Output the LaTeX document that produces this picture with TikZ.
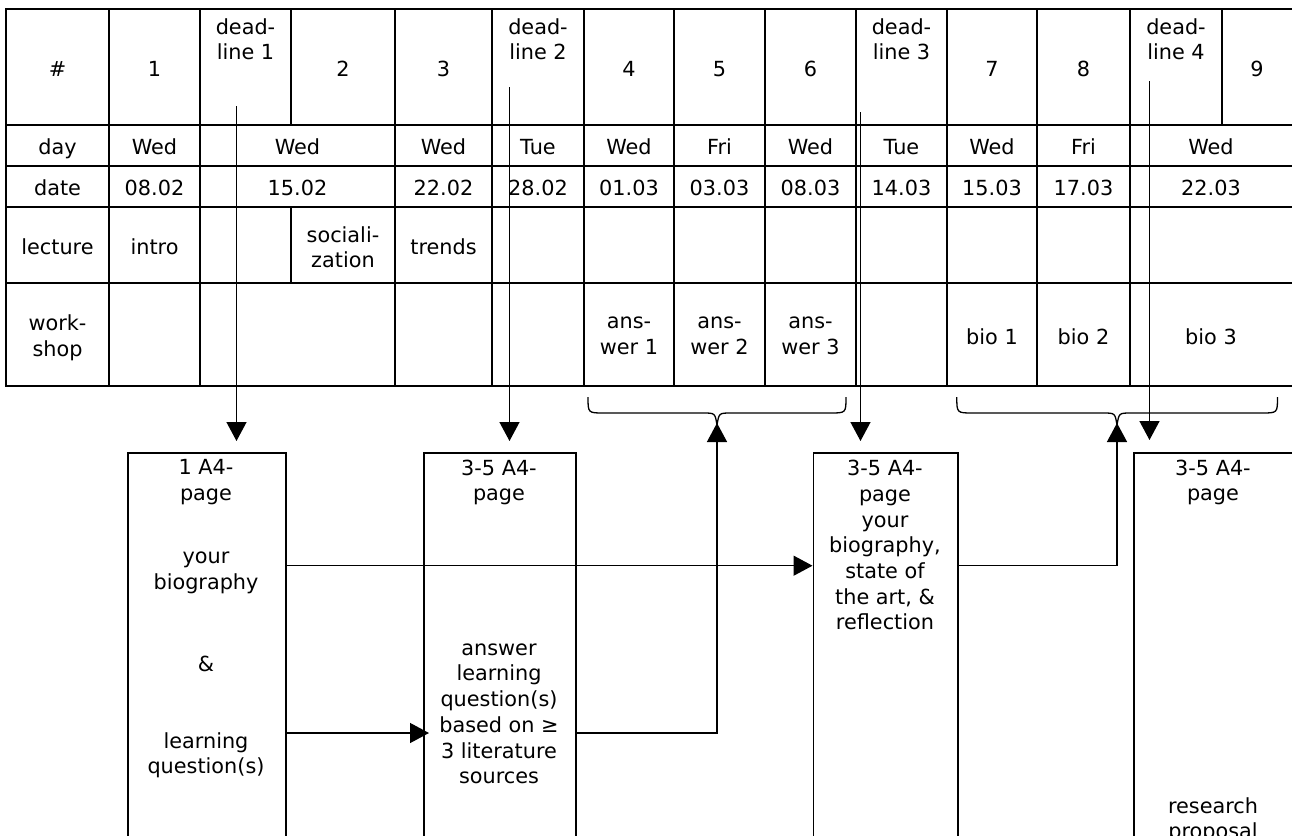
\documentclass[tikz,border=0pt]{standalone}
\usepackage{fontspec}
\setmainfont{DejaVu Sans}
\usetikzlibrary{arrows.meta}
\begin{document}
\begin{tikzpicture}[x=0.5pt,y=-0.5pt,
  tl/.style={line width=0.95pt, line cap=rect},
  txt/.style={inner sep=0pt, align=center, font=\fontsize{10.4}{12.85}\selectfont,
    execute at begin node=\strut, execute at end node=\strut, yshift=-2pt},
  box/.style={draw, line width=0.9pt, anchor=north west, inner sep=0pt, minimum height=200pt},
  conn/.style={line width=0.7pt},
  arr/.style={conn, -{Triangle[length=9.5pt,width=10pt]}},
  brace/.style={line width=0.65pt}
]
\clip (0,0) rectangle (1292,836);
% ---------------- table grid ----------------
\foreach \y in {9,125,166,207,283,386} \draw[tl] (6,\y) -- (1310,\y);
\foreach \x in {6,109,200,395,492,584,674,765,856,947,1037,1130} \draw[tl] (\x,9) -- (\x,386);
\draw[tl] (291,9) -- (291,125) (291,207) -- (291,283) (1222,9) -- (1222,125);
% ---------------- header row ----------------
\node[txt] (hh) at (57.5,67) {\#};
\node[txt] (h1) at (154.5,67) {1};
\node[txt] (h2) at (343,67) {2};
\node[txt] (h3) at (443.5,67) {3};
\node[txt] (h4) at (629,67) {4};
\node[txt] (h5) at (719.5,67) {5};
\node[txt] (h6) at (810.5,67) {6};
\node[txt] (h7) at (992,67) {7};
\node[txt] (h8) at (1083.5,67) {8};
\node[txt] (h9) at (1257,67) {9};
\node[txt] (dl1) at (245.5,39) {dead-\\line 1};
\node[txt] (dl2) at (538,39) {dead-\\line 2};
\node[txt] (dl3) at (901.5,39) {dead-\\line 3};
\node[txt] (dl4) at (1176,39) {dead-\\line 4};
% ---------------- day row ----------------
\node[txt] (dy0) at (57.5,145.5) {day};
\node[txt] (dy1) at (154.5,145.5) {Wed};
\node[txt] (dy2) at (297.5,145.5) {Wed};
\node[txt] (dy3) at (443.5,145.5) {Wed};
\node[txt] (dy4) at (538,145.5) {Tue};
\node[txt] (dy5) at (629,145.5) {Wed};
\node[txt] (dy6) at (719.5,145.5) {Fri};
\node[txt] (dy7) at (810.5,145.5) {Wed};
\node[txt] (dy8) at (901.5,145.5) {Tue};
\node[txt] (dy9) at (992,145.5) {Wed};
\node[txt] (dy10) at (1083.5,145.5) {Fri};
\node[txt] (dy11) at (1211,145.5) {Wed};
% ---------------- date row ----------------
\node[txt] (dt0) at (57.5,186.5) {date};
\node[txt] (dt1) at (154.5,186.5) {08.02};
\node[txt] (dt2) at (297.5,186.5) {15.02};
\node[txt] (dt3) at (443.5,186.5) {22.02};
\node[txt] (dt4) at (538,186.5) {28.02};
\node[txt] (dt5) at (629,186.5) {01.03};
\node[txt] (dt6) at (719.5,186.5) {03.03};
\node[txt] (dt7) at (810.5,186.5) {08.03};
\node[txt] (dt8) at (901.5,186.5) {14.03};
\node[txt] (dt9) at (992,186.5) {15.03};
\node[txt] (dt10) at (1083.5,186.5) {17.03};
\node[txt] (dt11) at (1211,186.5) {22.03};
% ---------------- lecture row ----------------
\node[txt] (lc0) at (57.5,245) {lecture};
\node[txt] (lc1) at (154.5,245) {intro};
\node[txt] (lc2) at (343,247) {sociali-\\zation};
\node[txt] (lc3) at (443.5,245) {trends};
% ---------------- workshop row ----------------
\node[txt] (ws0) at (57.5,335.5) {work-\\shop};
\node[txt] (ws4) at (629,335.5) {ans-\\wer 1};
\node[txt] (ws5) at (719.5,335.5) {ans-\\wer 2};
\node[txt] (ws6) at (810.5,335.5) {ans-\\wer 3};
\node[txt] (ws9) at (992,335.5) {bio 1};
\node[txt] (ws10) at (1083.5,335.5) {bio 2};
\node[txt] (ws11) at (1211,335.5) {bio 3};
% ---------------- boxes ----------------
\node[box, minimum width=79.15pt] (b1) at (126.7,452) {};
\node[box, minimum width=75.85pt] (b2) at (423,452) {};
\node[box, minimum width=72.15pt] (b3) at (812.5,452) {};
\node[box, minimum width=80.65pt] (b4) at (1132.7,452) {};
% box texts
\node[txt] (b1a) at (206,480) {1 A4-\\page};
\node[txt] (b1b) at (206,570.5) {your\\biography};
\node[txt] (b1c) at (206,662) {\&};
\node[txt] (b1d) at (206,753) {learning\\question(s)};
\node[txt] (b2a) at (499,480) {3-5 A4-\\page};
\node[txt] (b2b) at (499,713.5) {answer\\learning\\question(s)\\based on ≥\\3 literature\\sources};
\node[txt] (b3a) at (885,545) {3-5 A4-\\page\\your\\biography,\\state of\\the art, \&\\reflection};
\node[txt] (b4a) at (1213,480) {3-5 A4-\\page};
\node[txt] (b4b) at (1213,818) {research\\proposal};
% ---------------- deadline arrows ----------------
\coordinate (d1s) at (236.5,106);
\coordinate (d2s) at (509.5,87);
\coordinate (d3s) at (860.5,112);
\coordinate (d4s) at (1149.5,81);
\draw[arr, shorten >=5.5pt] (d1s) -- (d1s |- b1.north);
\draw[arr, shorten >=5.5pt] (d2s) -- (d2s |- b2.north);
\draw[arr, shorten >=5.5pt] (d3s) -- (d3s |- b3.north);
\draw[arr, shorten >=6pt] (d4s) -- (d4s |- b4.north);
% ---------------- braces ----------------
\draw[brace] (588,397) .. controls (588,413) .. (604,413) -- (703,413)
  .. controls (715,413) .. (717,425) .. controls (719,413) .. (731,413)
  -- (830,413) .. controls (846,413) .. (846,397);
\draw[brace] (956.8,397) .. controls (956.8,413) .. (973,413) -- (1103,413)
  .. controls (1115,413) .. (1117,425) .. controls (1119,413) .. (1131,413)
  -- (1261.5,413) .. controls (1277.5,413) .. (1277.5,397);
\coordinate (br1) at (717,423);
\coordinate (br2) at (1117,423);
% ---------------- flow connectors ----------------
\coordinate (yb) at (0,565.7);
\coordinate (yq) at (0,733);
\draw[arr] (b1.east |- yb) -- (b3.west |- yb);
\draw[arr, shorten >=-3pt] (b1.east |- yq) -- (b2.west |- yq);
\draw[arr] (b2.east |- yq) -| (br1);
\draw[arr] (b3.east |- yb) -| (br2);
\end{tikzpicture}
\end{document}
